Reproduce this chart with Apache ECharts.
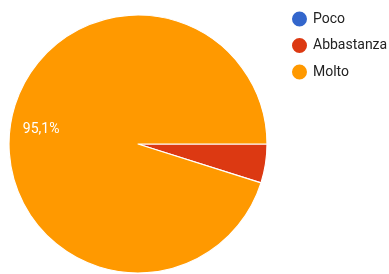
<!DOCTYPE html>
<html>
<head>
<meta charset="utf-8">
<script src="https://cdn.jsdelivr.net/npm/echarts@6/dist/echarts.min.js"></script>
<style>
  html, body { margin: 0; padding: 0; background: #fff; }
  #chart { width: 389px; height: 274px; }
</style>
</head>
<body>
<div id="chart"></div>
<script>
// risposte (conteggi)
const categories = ['Poco', 'Abbastanza', 'Molto']
const counts = [0, 2, 39]
const colors = ['#3366cc', '#dc3912', '#ff9900']

const total = counts.reduce((a, b) => a + b, 0)
const pieData = categories.map((name, i) => ({
  name: name,
  value: counts[i],
  itemStyle: { color: colors[i] }
}))

const fmtPct = v => (v / total * 100).toFixed(1).replace('.', ',') + '%'

const chart = echarts.init(document.getElementById('chart'))
chart.setOption({
  animation: false,
  legend: {
    orient: 'vertical',
    left: 290,
    top: 9.5,
    padding: 0,
    icon: 'circle',
    itemWidth: 17,
    itemHeight: 17,
    itemGap: 7.5,
    textStyle: { fontFamily: 'Roboto', fontSize: 14, lineHeight: 17, color: '#222' },
    data: categories
  },
  series: [
    {
      type: 'pie',
      center: [138, 144],
      radius: 129,
      startAngle: 0,
      clockwise: true,
      avoidLabelOverlap: false,
      itemStyle: { borderColor: '#fff', borderWidth: 1.2 },
      label: { show: false },
      labelLine: { show: false },
      emphasis: { disabled: true },
      data: pieData
    },
    {
      // solo etichette, anello trasparente per spostarle verso il bordo
      type: 'pie',
      center: [138, 144],
      radius: [61, 129],
      startAngle: 0,
      clockwise: true,
      silent: true,
      avoidLabelOverlap: false,
      itemStyle: { color: 'transparent', borderWidth: 0 },
      label: {
        show: true,
        position: 'inside',
        color: '#fff',
        fontFamily: 'Roboto',
        fontSize: 14,
        formatter: p => (p.value / total > 0.1 ? fmtPct(p.value) : '')
      },
      labelLine: { show: false },
      data: categories.map((name, i) => ({ name: name, value: counts[i] }))
    }
  ]
})
</script>
</body>
</html>
